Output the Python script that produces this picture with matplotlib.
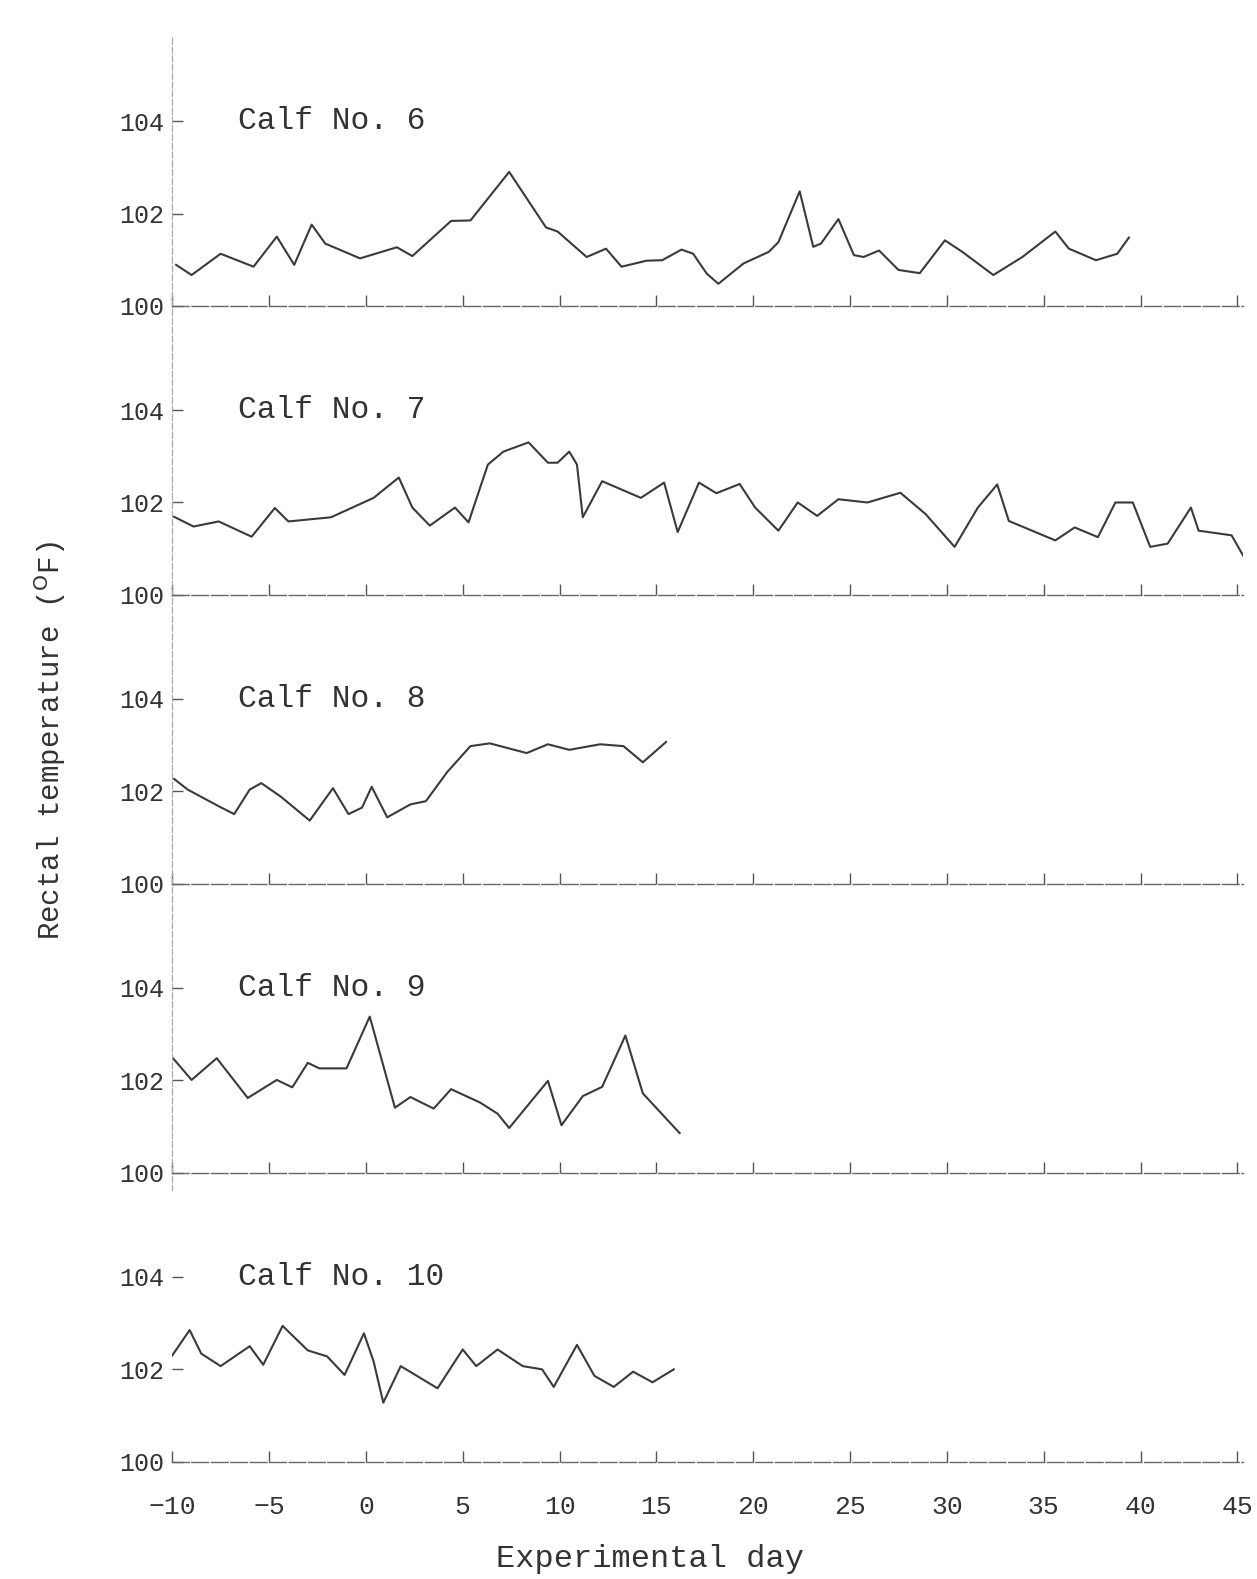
import matplotlib
matplotlib.use('Agg')
import matplotlib.pyplot as plt

# rectal temperature (deg F), by experimental day
calf6_day = [-9.8, -9.0, -7.5, -5.8, -4.6, -3.7, -2.8, -2.1, -0.3, 1.6, 2.4, 4.4, 5.4, 7.4, 9.3, 9.9,
             11.4, 12.4, 13.2, 14.5, 15.3, 16.3, 16.9, 17.6, 18.2, 19.5, 20.8, 21.3, 22.4, 23.1, 23.5,
             24.4, 25.2, 25.7, 26.5, 27.5, 28.6, 29.9, 30.8, 32.4, 33.9, 35.6, 36.3, 37.7, 38.8, 39.4]
calf6_temp = [100.89, 100.67, 101.13, 100.85, 101.5, 100.89, 101.76, 101.35, 101.03, 101.27, 101.08,
              101.84, 101.85, 102.9, 101.7, 101.61, 101.06, 101.24, 100.85, 100.98, 100.99, 101.22,
              101.13, 100.7, 100.48, 100.92, 101.17, 101.38, 102.48, 101.28, 101.35, 101.88, 101.1,
              101.06, 101.2, 100.78, 100.71, 101.42, 101.17, 100.67, 101.06, 101.61, 101.24, 100.99,
              101.13, 101.48]

calf7_day = [-9.9, -8.9, -7.6, -5.9, -4.7, -4.0, -1.8, 0.4, 1.7, 2.4, 3.3, 4.6, 5.3, 6.3, 7.1, 8.4,
             9.4, 9.9, 10.5, 10.9, 11.2, 12.2, 14.2, 15.4, 16.1, 17.2, 18.1, 19.3, 20.1, 21.3, 22.3,
             23.3, 24.4, 25.9, 27.6, 28.9, 30.4, 31.6, 32.6, 33.2, 35.6, 36.6, 37.8, 38.7, 39.6, 40.5,
             41.4, 42.6, 43.0, 44.7, 45.3]
calf7_temp = [101.69, 101.48, 101.59, 101.26, 101.88, 101.59, 101.68, 102.1, 102.54, 101.89, 101.5,
              101.89, 101.57, 102.82, 103.1, 103.3, 102.86, 102.86, 103.1, 102.82, 101.68, 102.46,
              102.1, 102.43, 101.36, 102.43, 102.2, 102.4, 101.89, 101.39, 102.0, 101.71, 102.07,
              102.0, 102.21, 101.75, 101.04, 101.89, 102.39, 101.6, 101.18, 101.46, 101.25, 102.0,
              102.0, 101.04, 101.11, 101.89, 101.39, 101.29, 100.85]

calf8_day = [-9.9, -9.2, -7.6, -6.8, -6.0, -5.4, -4.4, -2.9, -1.7, -0.9, -0.2, 0.3, 1.1, 2.3, 3.1,
             4.2, 5.4, 6.4, 8.3, 9.4, 10.5, 12.1, 13.3, 14.3, 15.5]
calf8_temp = [102.27, 102.04, 101.68, 101.51, 102.04, 102.18, 101.89, 101.37, 102.07, 101.51, 101.65,
              102.1, 101.44, 101.72, 101.79, 102.42, 102.98, 103.04, 102.83, 103.02, 102.9, 103.02,
              102.98, 102.63, 103.07]

calf9_day = [-10.0, -9.0, -7.7, -6.1, -4.6, -3.8, -3.0, -2.4, -1.0, 0.2, 1.5, 2.3, 3.5, 4.4, 5.9,
             6.8, 7.4, 9.4, 10.1, 11.2, 12.2, 13.4, 14.3, 16.2]
calf9_temp = [102.5, 102.01, 102.48, 101.62, 102.01, 101.85, 102.38, 102.26, 102.26, 103.38, 101.41,
              101.64, 101.39, 101.81, 101.52, 101.28, 100.97, 101.99, 101.03, 101.66, 101.86, 102.97,
              101.72, 100.86]

calf10_day = [-10.0, -9.1, -8.5, -7.5, -6.0, -5.3, -4.3, -3.0, -2.0, -1.1, -0.1, 0.4, 0.9, 1.8, 3.7,
              5.0, 5.7, 6.8, 8.1, 9.1, 9.7, 10.9, 11.8, 12.8, 13.8, 14.8, 15.9]
calf10_temp = [102.3, 102.85, 102.34, 102.07, 102.5, 102.1, 102.94, 102.41, 102.28, 101.88, 102.78,
               102.17, 101.28, 102.07, 101.59, 102.43, 102.07, 102.43, 102.07, 102.0, 101.62, 102.53,
               101.86, 101.62, 101.95, 101.72, 102.0]

calf_names = ['Calf No. 6', 'Calf No. 7', 'Calf No. 8', 'Calf No. 9', 'Calf No. 10']
days = [calf6_day, calf7_day, calf8_day, calf9_day, calf10_day]
temps = [calf6_temp, calf7_temp, calf8_temp, calf9_temp, calf10_temp]

x_ticks = list(range(-10, 46, 5))
y_ticks = [100, 102, 104]

mono = 'Liberation Mono'
ink = '#3a3a3a'

fig, axes = plt.subplots(5, 1, figsize=(12.57, 15.79), dpi=100, sharex=True)
fig.subplots_adjust(left=0.137, right=0.989, bottom=0.0625, top=0.9775, hspace=0)

for i, ax in enumerate(axes):
    ax.plot(days[i], temps[i], color=ink, lw=1.5)
    ax.set_xlim(-10, 45.3)
    ax.set_ylim(99.6, 105.85)
    ax.set_yticks(y_ticks)
    ax.set_yticklabels([str(t) for t in y_ticks], family=mono, fontsize=18, color='#333')
    ax.set_xticks(x_ticks)
    ax.text(-6.6, 104, calf_names[i], family=mono, fontsize=22.5, color='#333', va='center', ha='left')

    # baseline at 100 carries the day ticks
    ax.spines['bottom'].set_position(('data', 100))
    ax.spines['bottom'].set_color('#666')
    ax.spines['bottom'].set_linewidth(1.0)
    ax.spines['bottom'].set_linestyle((0, (12, 2)))
    ax.spines['top'].set_visible(False)
    ax.spines['right'].set_visible(False)
    ax.spines['left'].set_color('#aaa')
    ax.spines['left'].set_linewidth(0.9)
    ax.spines['left'].set_linestyle((0, (5, 2)))
    if i == 4:
        ax.spines['left'].set_visible(False)

    ax.tick_params(axis='x', direction='in', length=8, width=1, color='#555',
                   labelbottom=(i == 4), pad=24)
    ax.tick_params(axis='y', direction='in', length=8, width=1, color='#555', pad=6)

for lab in axes[-1].get_xticklabels():
    lab.set_family(mono)
    lab.set_fontsize(19)
    lab.set_color('#333')

axes[-1].set_xlabel('Experimental day', family=mono, fontsize=23, color='#333')
axes[-1].xaxis.set_label_coords(0.446, -0.22)
fig.text(0.04, 0.531, r'Rectal temperature ($^{\rm O}$F)', rotation=90, family=mono,
         fontsize=21, color='#333', ha='center', va='center')

fig.savefig('out.png', dpi=100, facecolor='white')
